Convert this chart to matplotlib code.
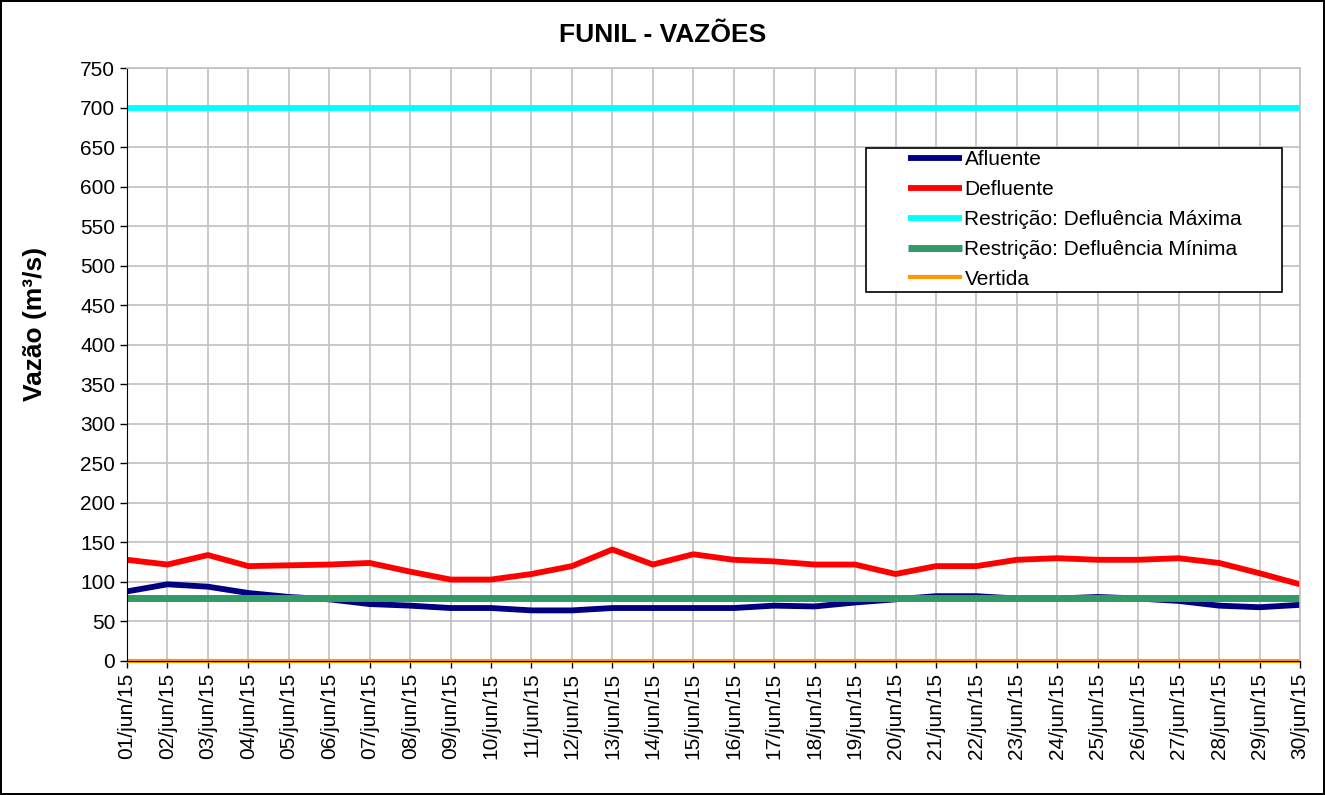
import numpy as np
import matplotlib.pyplot as plt
from matplotlib.patches import Rectangle

plt.rcParams['font.family'] = ['Liberation Sans', 'DejaVu Sans']

# days of june/2015
dias = ['%02d/jun/15' % d for d in range(1, 31)]

afluente = [88, 97, 94, 86, 81, 78, 72, 70, 67, 67, 64, 64, 67, 67, 67,
            67, 70, 69, 74, 78, 82, 82, 79, 79, 81, 79, 76, 70, 68, 71]
defluente = [128, 122, 134, 120, 121, 122, 124, 113, 103, 103, 110, 120, 141, 122, 135,
             128, 126, 122, 122, 110, 120, 120, 128, 130, 128, 128, 130, 124, 111, 97]
defl_max = [700] * 30
defl_min = [80] * 30
vertida = [0] * 30

fig = plt.figure(figsize=(13.25, 7.95), dpi=100)
fig.patch.set_edgecolor('black')
fig.patch.set_linewidth(1.5)
ax = fig.add_axes([127/1325, 1 - 661/795, (1300-127)/1325, (661-68)/795])

x = np.arange(len(dias))
ax.plot(x, afluente, color='#000080', lw=4.2, label='Afluente', solid_capstyle='butt')
ax.plot(x, defluente, color='#FF0000', lw=4.2, label='Defluente', solid_capstyle='butt')
ax.plot(x, defl_max, color='#00FFFF', lw=4.2, label='Restrição: Defluência Máxima', solid_capstyle='butt')
ax.plot(x, defl_min, color='#339966', lw=5.0, label='Restrição: Defluência Mínima', solid_capstyle='butt')
ax.plot(x, vertida, color='#FF9900', lw=3.0, label='Vertida', solid_capstyle='butt', clip_on=False)

ax.set_xlim(0, len(dias) - 1)
ax.set_ylim(0, 750)
ax.set_yticks(np.arange(0, 751, 50))
ax.set_xticks(x)
ax.set_xticklabels(dias, rotation=90, fontsize=15)
ax.tick_params(axis='y', labelsize=15)
ax.tick_params(direction='out', length=5, width=1, color='black')
ax.grid(True, color='#c0c0c0', lw=1.2)
ax.set_axisbelow(True)
for s in ['top', 'right']:
    ax.spines[s].set_color('#c0c0c0')
    ax.spines[s].set_linewidth(1.2)
for s in ['left', 'bottom']:
    ax.spines[s].set_color('black')

ax.set_ylabel('Vazão (m³/s)', fontsize=19, fontweight='bold')
ax.yaxis.set_label_coords(-0.068, 0.568)
fig.text(0.5, 1 - 35/795, 'FUNIL - VAZÕES', ha='center', va='center', fontsize=19, fontweight='bold')

# legend box drawn separately, entries shifted right like the original
ax.add_patch(Rectangle((0.630, 0.6223), 0.3547, 0.2428, transform=ax.transAxes,
                       facecolor='white', edgecolor='black', lw=1.2, zorder=5))
leg = ax.legend(loc='upper left', bbox_to_anchor=(0.666, 0.861), frameon=False,
                fontsize=15, handlelength=2.6, handletextpad=0.1, borderaxespad=0,
                borderpad=0, labelspacing=0.52)
leg.set_zorder(6)

fig.savefig('out.png', dpi=100)
